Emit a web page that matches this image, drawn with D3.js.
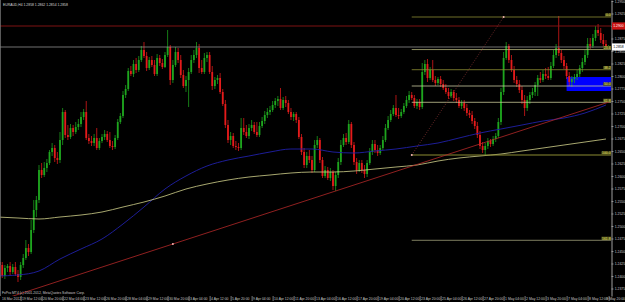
<!DOCTYPE html>
<html>
<head>
<meta charset="utf-8">
<script src="https://cdn.jsdelivr.net/npm/d3@7"></script>
<style>
body { margin: 0; background: #000; }
svg { display: block; }
text { font-family: "Liberation Sans", Arial, sans-serif; }
</style>
</head>
<body>
<div id="chart-area"></div>
<script>
// EURAUD H4, 16 Mar 2012 00:00 .. 9 May 2012 20:00 (one value per bar)
var symbol = "EURAUD,H4";

var opens = [
1.2436,1.2428,1.2422,1.2400,1.2416,1.2420,1.2408,1.2418,1.2404,1.2398,
1.2422,1.2436,1.2456,1.2448,1.2492,1.2532,1.2552,1.2612,1.2602,1.2616,
1.2626,1.2648,1.2656,1.2636,1.2632,1.2672,1.2728,1.2682,1.2678,1.2696,
1.2688,1.2698,1.2704,1.2718,1.2728,1.2676,1.2670,1.2666,1.2676,1.2656,
1.2670,1.2678,1.2684,1.2672,1.2660,1.2658,1.2676,1.2708,1.2720,1.2762,
1.2774,1.2810,1.2804,1.2824,1.2812,1.2832,1.2852,1.2840,1.2816,1.2832,
1.2822,1.2804,1.2836,1.2826,1.2818,1.2842,1.2858,1.2792,1.2822,1.2848,
1.2832,1.2802,1.2780,1.2792,1.2808,1.2832,1.2842,1.2856,1.2816,1.2808,
1.2836,1.2842,1.2808,1.2780,1.2792,1.2796,1.2768,1.2744,1.2702,1.2672,
1.2680,1.2660,1.2658,1.2656,1.2696,1.2688,1.2680,1.2696,1.2702,1.2688,
1.2682,1.2700,1.2710,1.2722,1.2728,1.2732,1.2742,1.2750,1.2754,1.2736,
1.2752,1.2746,1.2728,1.2718,1.2724,1.2712,1.2678,1.2648,1.2622,1.2640,
1.2632,1.2612,1.2662,1.2672,1.2632,1.2600,1.2612,1.2596,1.2608,1.2580,
1.2602,1.2628,1.2662,1.2676,1.2668,1.2704,1.2662,1.2628,1.2612,1.2626,
1.2612,1.2604,1.2626,1.2648,1.2664,1.2652,1.2646,1.2656,1.2672,1.2696,
1.2712,1.2724,1.2736,1.2722,1.2720,1.2728,1.2740,1.2752,1.2762,1.2756,
1.2740,1.2748,1.2738,1.2808,1.2824,1.2796,1.2812,1.2792,1.2786,1.2794,
1.2784,1.2776,1.2768,1.2760,1.2768,1.2756,1.2752,1.2740,1.2746,1.2736,
1.2726,1.2722,1.2710,1.2700,1.2682,1.2660,1.2652,1.2660,1.2670,1.2664,
1.2674,1.2680,1.2708,1.2768,1.2836,1.2860,1.2832,1.2812,1.2792,1.2784,
1.2772,1.2752,1.2736,1.2752,1.2762,1.2768,1.2782,1.2796,1.2792,1.2804,
1.2800,1.2796,1.2820,1.2842,1.2856,1.2846,1.2832,1.2820,1.2800,1.2788,
1.2794,1.2798,1.2804,1.2816,1.2828,1.2842,1.2864,1.2860,1.2876,1.2892,
1.2886,1.2872,1.2864,1.2858];

var highs = [
1.2442,1.2432,1.2428,1.2422,1.2424,1.2428,1.2424,1.2428,1.2412,1.2428,
1.2444,1.2472,1.2464,1.2512,1.2552,1.2560,1.2622,1.2626,1.2628,1.2634,
1.2652,1.2666,1.2662,1.2648,1.2688,1.2736,1.2732,1.2702,1.2704,1.2702,
1.2708,1.2714,1.2728,1.2734,1.2750,1.2684,1.2680,1.2684,1.2696,1.2676,
1.2684,1.2692,1.2690,1.2688,1.2670,1.2682,1.2714,1.2726,1.2770,1.2782,
1.2816,1.2820,1.2832,1.2836,1.2840,1.2860,1.2868,1.2848,1.2838,1.2840,
1.2832,1.2844,1.2842,1.2834,1.2848,1.2892,1.2862,1.2832,1.2858,1.2856,
1.2842,1.2812,1.2800,1.2816,1.2842,1.2852,1.2868,1.2864,1.2832,1.2846,
1.2848,1.2848,1.2820,1.2798,1.2802,1.2806,1.2774,1.2752,1.2712,1.2688,
1.2686,1.2670,1.2666,1.2716,1.2716,1.2702,1.2704,1.2712,1.2708,1.2708,
1.2708,1.2718,1.2730,1.2736,1.2740,1.2750,1.2756,1.2760,1.2776,1.2758,
1.2760,1.2752,1.2736,1.2728,1.2728,1.2718,1.2684,1.2656,1.2648,1.2652,
1.2640,1.2672,1.2680,1.2676,1.2638,1.2620,1.2618,1.2616,1.2612,1.2608,
1.2636,1.2672,1.2684,1.2686,1.2712,1.2708,1.2668,1.2636,1.2632,1.2632,
1.2622,1.2632,1.2656,1.2672,1.2672,1.2662,1.2662,1.2680,1.2704,1.2720,
1.2732,1.2742,1.2762,1.2736,1.2734,1.2746,1.2760,1.2770,1.2768,1.2762,
1.2754,1.2754,1.2826,1.2832,1.2834,1.2818,1.2832,1.2800,1.2798,1.2800,
1.2792,1.2784,1.2776,1.2774,1.2772,1.2766,1.2758,1.2752,1.2752,1.2744,
1.2732,1.2730,1.2716,1.2708,1.2690,1.2668,1.2666,1.2676,1.2674,1.2680,
1.2686,1.2716,1.2776,1.2848,1.2868,1.2864,1.2842,1.2820,1.2800,1.2792,
1.2780,1.2762,1.2760,1.2768,1.2776,1.2788,1.2802,1.2808,1.2812,1.2816,
1.2818,1.2828,1.2852,1.2864,1.2920,1.2852,1.2840,1.2826,1.2808,1.2800,
1.2804,1.2812,1.2822,1.2836,1.2852,1.2876,1.2876,1.2884,1.2900,1.2904,
1.2896,1.2884,1.2872,1.2862];

var lows = [
1.2424,1.2416,1.2396,1.2394,1.2408,1.2402,1.2404,1.2400,1.2388,1.2392,
1.2416,1.2432,1.2440,1.2444,1.2486,1.2518,1.2546,1.2596,1.2598,1.2608,
1.2622,1.2640,1.2628,1.2624,1.2626,1.2662,1.2676,1.2672,1.2674,1.2680,
1.2684,1.2692,1.2698,1.2712,1.2672,1.2664,1.2660,1.2660,1.2652,1.2652,
1.2666,1.2672,1.2668,1.2656,1.2652,1.2654,1.2672,1.2704,1.2716,1.2756,
1.2770,1.2800,1.2798,1.2806,1.2808,1.2828,1.2836,1.2810,1.2812,1.2818,
1.2800,1.2800,1.2820,1.2814,1.2816,1.2838,1.2782,1.2786,1.2818,1.2826,
1.2796,1.2776,1.2768,1.2738,1.2804,1.2826,1.2836,1.2806,1.2804,1.2804,
1.2828,1.2804,1.2772,1.2774,1.2784,1.2764,1.2740,1.2696,1.2666,1.2662,
1.2656,1.2652,1.2650,1.2652,1.2682,1.2676,1.2674,1.2690,1.2684,1.2678,
1.2678,1.2696,1.2704,1.2716,1.2722,1.2728,1.2736,1.2740,1.2732,1.2732,
1.2738,1.2724,1.2712,1.2710,1.2706,1.2674,1.2642,1.2616,1.2616,1.2626,
1.2606,1.2608,1.2656,1.2626,1.2596,1.2596,1.2592,1.2590,1.2572,1.2570,
1.2596,1.2622,1.2658,1.2662,1.2664,1.2656,1.2622,1.2604,1.2608,1.2606,
1.2596,1.2598,1.2622,1.2642,1.2646,1.2640,1.2642,1.2652,1.2668,1.2692,
1.2708,1.2720,1.2718,1.2714,1.2716,1.2724,1.2736,1.2746,1.2752,1.2736,
1.2734,1.2732,1.2734,1.2802,1.2788,1.2792,1.2788,1.2780,1.2782,1.2778,
1.2772,1.2764,1.2754,1.2756,1.2750,1.2746,1.2736,1.2734,1.2730,1.2720,
1.2716,1.2704,1.2694,1.2676,1.2654,1.2646,1.2642,1.2654,1.2658,1.2660,
1.2668,1.2676,1.2702,1.2762,1.2832,1.2826,1.2808,1.2786,1.2778,1.2766,
1.2744,1.2720,1.2730,1.2744,1.2756,1.2760,1.2760,1.2786,1.2788,1.2794,
1.2792,1.2792,1.2816,1.2836,1.2840,1.2826,1.2814,1.2794,1.2780,1.2778,
1.2786,1.2792,1.2798,1.2808,1.2822,1.2836,1.2854,1.2856,1.2870,1.2880,
1.2866,1.2858,1.2854,1.2854];

var closes = [
1.2428,1.2422,1.2400,1.2416,1.2420,1.2408,1.2418,1.2404,1.2398,1.2422,
1.2436,1.2456,1.2448,1.2492,1.2532,1.2552,1.2612,1.2602,1.2616,1.2626,
1.2648,1.2656,1.2636,1.2632,1.2672,1.2728,1.2682,1.2678,1.2696,1.2688,
1.2698,1.2704,1.2718,1.2728,1.2676,1.2670,1.2666,1.2676,1.2656,1.2670,
1.2678,1.2684,1.2672,1.2660,1.2658,1.2676,1.2708,1.2720,1.2762,1.2774,
1.2810,1.2804,1.2824,1.2812,1.2832,1.2852,1.2840,1.2816,1.2832,1.2822,
1.2804,1.2836,1.2826,1.2818,1.2842,1.2858,1.2792,1.2822,1.2848,1.2832,
1.2802,1.2780,1.2792,1.2808,1.2832,1.2842,1.2856,1.2816,1.2808,1.2836,
1.2842,1.2808,1.2780,1.2792,1.2796,1.2768,1.2744,1.2702,1.2672,1.2680,
1.2660,1.2658,1.2656,1.2696,1.2688,1.2680,1.2696,1.2702,1.2688,1.2682,
1.2700,1.2710,1.2722,1.2728,1.2732,1.2742,1.2750,1.2754,1.2736,1.2752,
1.2746,1.2728,1.2718,1.2724,1.2712,1.2678,1.2648,1.2622,1.2640,1.2632,
1.2612,1.2662,1.2672,1.2632,1.2600,1.2612,1.2596,1.2608,1.2580,1.2602,
1.2628,1.2662,1.2676,1.2668,1.2704,1.2662,1.2628,1.2612,1.2626,1.2612,
1.2604,1.2626,1.2648,1.2664,1.2652,1.2646,1.2656,1.2672,1.2696,1.2712,
1.2724,1.2736,1.2722,1.2720,1.2728,1.2740,1.2752,1.2762,1.2756,1.2740,
1.2748,1.2738,1.2808,1.2824,1.2796,1.2812,1.2792,1.2786,1.2794,1.2784,
1.2776,1.2768,1.2760,1.2768,1.2756,1.2752,1.2740,1.2746,1.2736,1.2726,
1.2722,1.2710,1.2700,1.2682,1.2660,1.2652,1.2660,1.2670,1.2664,1.2674,
1.2680,1.2708,1.2768,1.2836,1.2860,1.2832,1.2812,1.2792,1.2784,1.2772,
1.2752,1.2736,1.2752,1.2762,1.2768,1.2782,1.2796,1.2792,1.2804,1.2800,
1.2796,1.2820,1.2842,1.2856,1.2846,1.2832,1.2820,1.2800,1.2788,1.2794,
1.2798,1.2804,1.2816,1.2828,1.2842,1.2864,1.2860,1.2876,1.2892,1.2886,
1.2872,1.2864,1.2858,1.2858];

// moving averages, read every 8 bars (bar 0, 8, 16 ... 232)
var maStep = 8;
var maBlue = [1.2400,1.2402,1.2410,1.2434,1.2454,1.2474,1.2504,1.2538,1.2574,1.2600,
  1.2620,1.2632,1.2640,1.2648,1.2654,1.2654,1.2648,1.2646,1.2650,1.2654,
  1.2660,1.2666,1.2676,1.2686,1.2694,1.2702,1.2710,1.2716,1.2726,1.2742];
var maYellow = [1.2518,1.2516,1.2514,1.2518,1.2522,1.2528,1.2538,1.2548,1.2560,1.2574,
  1.2584,1.2592,1.2598,1.2602,1.2606,1.2608,1.2608,1.2610,1.2614,1.2618,
  1.2622,1.2630,1.2636,1.2640,1.2644,1.2650,1.2656,1.2662,1.2668,1.2674];

// objects on the chart
var hLinePrice = 1.2900;
var trendBars = [67, 129];
var trendPrices = [1.2464, 1.2570];
var fibBars = [158, 193];
var fibPrices = [1.2642, 1.2918];
var fibLevels = [0, 23.6, 38.2, 50, 61.8, 100, 161.8];
var rectBars = [217, 245];
var rectPrices = [1.2798, 1.2770];

var priceTicks = [1.2950,1.2925,1.2900,1.2875,1.2850,1.2825,1.2800,1.2775,1.2750,1.2725,
  1.2700,1.2675,1.2650,1.2625,1.2600,1.2575,1.2550,1.2525,1.2500,1.2475,
  1.2450,1.2425,1.2400,1.2375];
var firstLabel = "16 Mar 2012";
var timeLabels = ["19 Mar 12:00","20 Mar 20:00","22 Mar 04:00","23 Mar 12:00","26 Mar 20:00",
  "28 Mar 04:00","29 Mar 12:00","30 Mar 20:00","3 Apr 04:00","4 Apr 12:00","5 Apr 20:00",
  "9 Apr 04:00","10 Apr 12:00","11 Apr 20:00","13 Apr 04:00","16 Apr 12:00","17 Apr 20:00",
  "19 Apr 04:00","20 Apr 12:00","23 Apr 20:00","25 Apr 04:00","26 Apr 12:00","27 Apr 20:00",
  "1 May 04:00","2 May 12:00","3 May 20:00","7 May 04:00","8 May 12:00","9 May 20:00"];
var timeTickBars = d3.range(9, closes.length, 8);

var width = 625;
var height = 302;
var plotW = 611;
var plotH = 296;
var bull = "#1ea51e", bear = "#e41b1b";
var fs = 3.4;
var n = closes.length;

var svg = d3.select("#chart-area")
    .append("svg")
    .attr("width", width)
    .attr("height", height);
svg.append("rect").attr("width", width).attr("height", height).attr("fill", "#000");

svg.append("clipPath").attr("id", "plot-clip")
    .append("rect").attr("width", plotW).attr("height", plotH);

var x = d3.scaleLinear().domain([0, n - 1]).range([-3, 608.6]);
var y = d3.scaleLinear().domain([1.2360, 1.2952]).range([plotH, 0]);

var g = svg.append("g").attr("clip-path", "url(#plot-clip)");

// blue zone
g.append("rect")
    .attr("x", x(rectBars[0]))
    .attr("y", y(rectPrices[0]))
    .attr("width", x(rectBars[1]) - x(rectBars[0]))
    .attr("height", y(rectPrices[1]) - y(rectPrices[0]))
    .attr("fill", "#0000ff");

// candles
var idx = d3.range(n);
g.selectAll(".wick").data(idx).enter().append("line")
    .attr("class", "wick")
    .attr("x1", (i) => x(i)).attr("x2", (i) => x(i))
    .attr("y1", (i) => y(highs[i])).attr("y2", (i) => y(lows[i]))
    .attr("stroke", (i) => closes[i] < opens[i] ? bear : bull)
    .attr("stroke-width", 0.75);
g.selectAll(".body").data(idx).enter().append("rect")
    .attr("class", "body")
    .attr("x", (i) => x(i) - 0.9)
    .attr("width", 1.8)
    .attr("y", (i) => y(Math.max(opens[i], closes[i])))
    .attr("height", (i) => Math.max(0.7, Math.abs(y(opens[i]) - y(closes[i]))))
    .attr("fill", (i) => closes[i] < opens[i] ? bear : bull);

// moving averages
var maLine = d3.line()
    .x((d, k) => x(k * maStep))
    .y((d) => y(d))
    .curve(d3.curveMonotoneX);
g.append("path").attr("d", maLine(maBlue))
    .attr("fill", "none").attr("stroke", "#2020a8").attr("stroke-width", 0.9);
g.append("path").attr("d", maLine(maYellow))
    .attr("fill", "none").attr("stroke", "#d2d28c").attr("stroke-width", 0.8);

// fibonacci retracement
var fibRange = fibPrices[1] - fibPrices[0];
var fibColors = { 0: "#8c8c32", 23.6: "#b4b478", 38.2: "#8c8c32", 50: "#c8c8a0", 61.8: "#c8c896", 100: "#8c8c32", 161.8: "#a0a078" };
fibLevels.forEach((lv) => {
    var p = fibPrices[1] - fibRange * lv / 100;
    g.append("line")
        .attr("x1", x(fibBars[0])).attr("x2", plotW)
        .attr("y1", y(p)).attr("y2", y(p))
        .attr("stroke", fibColors[lv])
        .attr("stroke-width", lv === 100 ? 1.2 : 0.8);
});

// horizontal line and bid line
g.append("line").attr("x1", 0).attr("x2", plotW)
    .attr("y1", y(hLinePrice)).attr("y2", y(hLinePrice))
    .attr("stroke", "#8c1414").attr("stroke-width", 0.9);
var bid = closes[n - 1];
g.append("line").attr("x1", 0).attr("x2", plotW)
    .attr("y1", y(bid)).attr("y2", y(bid))
    .attr("stroke", "#a0a0a0").attr("stroke-width", 0.7);

// trend line through its two anchors, extended
var slope = (trendPrices[1] - trendPrices[0]) / (trendBars[1] - trendBars[0]);
var tStart = -10, tEnd = n + 10;
g.append("line")
    .attr("x1", x(tStart)).attr("y1", y(trendPrices[0] + slope * (tStart - trendBars[0])))
    .attr("x2", x(tEnd)).attr("y2", y(trendPrices[0] + slope * (tEnd - trendBars[0])))
    .attr("stroke", "#b42828").attr("stroke-width", 0.8);

// fibo diagonal
g.append("line")
    .attr("x1", x(fibBars[0])).attr("y1", y(fibPrices[0]))
    .attr("x2", x(fibBars[1])).attr("y2", y(fibPrices[1]))
    .attr("stroke", "#a03c3c").attr("stroke-width", 0.8)
    .attr("stroke-dasharray", "0.8,1.6");

// anchor dots
var anchors = [[trendBars[0], trendPrices[0]], [fibBars[0], fibPrices[0]], [fibBars[1], fibPrices[1]]];
g.selectAll(".anchor").data(anchors).enter().append("circle")
    .attr("cx", (d) => x(d[0])).attr("cy", (d) => y(d[1]))
    .attr("r", 1).attr("fill", "#f0b4b4");

// fib level labels
fibLevels.forEach((lv) => {
    var p = fibPrices[1] - fibRange * lv / 100;
    var t = lv.toFixed(1);
    var w = t.length * 1.75 + 0.8;
    g.append("rect").attr("x", plotW - w).attr("y", y(p) - 3.6)
        .attr("width", w).attr("height", 3.4).attr("fill", "#55551a");
    g.append("text").attr("x", plotW - 0.4).attr("y", y(p) - 0.7)
        .attr("text-anchor", "end").attr("font-size", fs)
        .attr("fill", "#e0e070").text(t);
});

// frame
svg.append("line").attr("x1", 0.5).attr("x2", 0.5).attr("y1", 0).attr("y2", plotH)
    .attr("stroke", "#808080").attr("stroke-width", 0.7);

// price axis
var yAxisCall = d3.axisRight(y).tickValues(priceTicks).tickSizeInner(2).tickSizeOuter(0)
    .tickPadding(1.2).tickFormat(d3.format(".4f"));
var yAxisGroup = svg.append("g").attr("transform", "translate(" + (plotW + 0.5) + ",0)")
    .call(yAxisCall)
    .attr("color", "#c8c8c8")
    .attr("font-size", fs)
    .attr("font-family", "Liberation Sans, Arial, sans-serif");
yAxisGroup.select(".domain").attr("stroke-width", 0.8);
yAxisGroup.selectAll(".tick line").attr("stroke-width", 0.6);

// time axis
var xAxisCall = d3.axisBottom(x).tickValues(timeTickBars).tickSizeInner(5).tickSizeOuter(0)
    .tickFormat((d, k) => timeLabels[k]);
var xAxisGroup = svg.append("g").attr("transform", "translate(0," + plotH + ")")
    .call(xAxisCall)
    .attr("color", "#c8c8c8")
    .attr("font-size", fs)
    .attr("font-family", "Liberation Sans, Arial, sans-serif");
xAxisGroup.select(".domain").remove();
xAxisGroup.selectAll(".tick line").attr("stroke-width", 0.6);
xAxisGroup.selectAll(".tick text")
    .attr("text-anchor", "start").attr("x", 1).attr("y", 1.2).attr("dy", "0.71em");
// last label would run past the window edge: end it at the edge
xAxisGroup.selectAll(".tick text").filter((d, k) => k === timeLabels.length - 1)
    .attr("text-anchor", "end").attr("x", width - 0.5 - x(timeTickBars[timeTickBars.length - 1]));
svg.append("text").attr("x", 2).attr("y", plotH + 1.2).attr("dy", "0.71em")
    .attr("font-size", fs).attr("fill", "#c8c8c8").text(firstLabel);

// price boxes on the axis
function priceBox(p, bg, fg) {
    svg.append("rect").attr("x", plotW + 1).attr("y", y(p) - 3.6)
        .attr("width", 13).attr("height", 7.2).attr("fill", bg);
    svg.append("text").attr("x", plotW + 2.2).attr("y", y(p)).attr("dy", "0.35em")
        .attr("font-size", fs).attr("fill", fg).text(p.toFixed(4));
}
priceBox(hLinePrice, "#c81414", "#ffffff");
priceBox(bid, "#ffffff", "#000000");

// header and footer text
svg.append("text").attr("x", 3).attr("y", 6)
    .attr("font-size", fs).attr("fill", "#d8d8d8")
    .text(symbol + "  " + [opens[n - 1], highs[n - 1], lows[n - 1], closes[n - 1]].map((v) => v.toFixed(4)).join(" "));
svg.append("text").attr("x", 2).attr("y", plotH - 2.5)
    .attr("font-size", fs).attr("fill", "#c8c8c8")
    .text("FxPro MT4 (c) 2001-2012, MetaQuotes Software Corp.");
</script>
</body>
</html>
